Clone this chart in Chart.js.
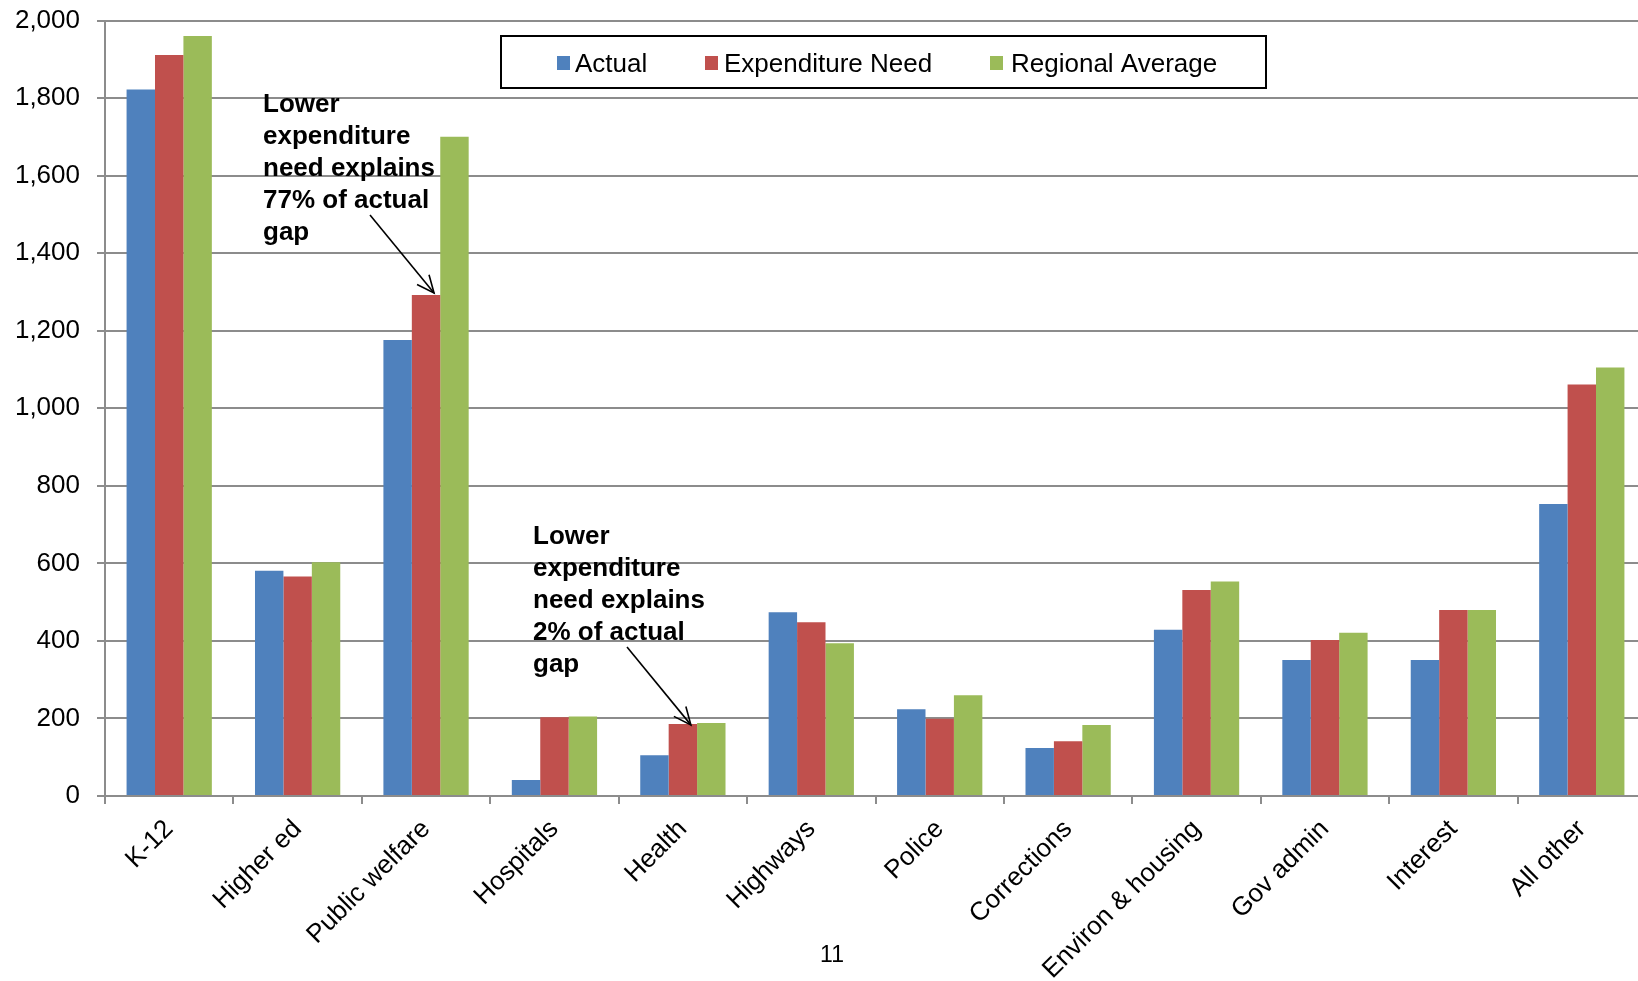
<!DOCTYPE html>
<html><head><meta charset="utf-8">
<script src="https://cdn.jsdelivr.net/npm/chart.js@4.4.0/dist/chart.umd.min.js"></script>
<style>
html,body{margin:0;padding:0;overflow:hidden;background:#fff;width:1638px;height:981px;}
#wrap{position:absolute;left:0;top:0;width:1660px;height:981px;}
canvas{display:block;}
</style></head><body>
<div id="wrap"><canvas id="c" width="1660" height="981"></canvas></div>
<script>
// ---- data ----
const categories = ['K-12','Higher ed','Public welfare','Hospitals','Health','Highways','Police','Corrections','Environ & housing','Gov admin','Interest','All other'];
const actual   = [1822, 581, 1176,  41, 105, 474, 224, 124, 429, 351, 351,  753];
const need     = [1911, 566, 1292, 203, 186, 448, 199, 141, 531, 402, 480, 1061];
const regional = [1960, 603, 1700, 205, 188, 394, 260, 183, 553, 421, 480, 1105];
const seriesNames = ['Actual', 'Expenditure Need', 'Regional Average'];
const yMin = 0, yMax = 2000, yStep = 200;
const note1 = ['Lower', 'expenditure', 'need explains', '77% of actual', 'gap'];
const note2 = ['Lower', 'expenditure', 'need explains', '2% of actual', 'gap'];
const pageNumber = '11';

const colors = ['#4F81BD', '#C0504D', '#9BBB59'];
const FONT = "'Liberation Sans', Arial, sans-serif";

const overlay = {
  id: 'overlay',
  afterDraw(chart) {
    const ctx = chart.ctx;
    ctx.save();
    // legend
    ctx.fillStyle = '#fff';
    ctx.fillRect(501, 36, 765, 52);
    ctx.strokeStyle = '#000';
    ctx.lineWidth = 2;
    ctx.strokeRect(501, 36, 765, 52);
    const sq = [557, 705, 990];
    const tx = [575, 724, 1011];
    ctx.font = '26px ' + FONT;
    ctx.textBaseline = 'middle';
    ctx.textAlign = 'left';
    seriesNames.forEach((n, i) => {
      ctx.fillStyle = chart.data.datasets[i].backgroundColor;
      ctx.fillRect(sq[i], 56, 13, 14);
      ctx.fillStyle = '#000';
      ctx.fillText(n, tx[i], 65);
    });
    // annotations
    ctx.font = 'bold 26px ' + FONT;
    ctx.textBaseline = 'alphabetic';
    ctx.fillStyle = '#000';
    const drawNote = (lines, x, y0) => {
      lines.forEach((l, k) => ctx.fillText(l, x, y0 + k * 32));
    };
    drawNote(note1, 263, 111.5);
    drawNote(note2, 533, 544);
    const meta = chart.getDatasetMeta(1);
    const arrow = (x0, y0, x1, y1) => {
      ctx.strokeStyle = '#000';
      ctx.lineWidth = 1.6;
      ctx.beginPath();
      ctx.moveTo(x0, y0); ctx.lineTo(x1, y1); ctx.stroke();
      const a = Math.atan2(y1 - y0, x1 - x0);
      const L = 19, s = 0.42;
      ctx.beginPath();
      ctx.moveTo(x1 - L * Math.cos(a - s), y1 - L * Math.sin(a - s));
      ctx.lineTo(x1, y1);
      ctx.lineTo(x1 - L * Math.cos(a + s), y1 - L * Math.sin(a + s));
      ctx.stroke();
    };
    const b1 = meta.data[2], b2 = meta.data[4];
    arrow(370, 215, b1.x + 8, b1.y - 2);
    arrow(627, 647, b2.x + 8, b2.y + 1);
    // page number
    ctx.font = '23px ' + FONT;
    ctx.textAlign = 'center';
    ctx.fillText(pageNumber, 832, 962);
    ctx.restore();
  }
};

new Chart(document.getElementById('c'), {
  type: 'bar',
  data: {
    labels: categories,
    datasets: [actual, need, regional].map((d, i) => ({
      label: seriesNames[i], data: d, backgroundColor: colors[i], borderWidth: 0,
      categoryPercentage: 0.664, barPercentage: 1.0
    }))
  },
  options: {
    responsive: false,
    animation: false,
    layout: { padding: { left: 0, right: 14, top: 20.5, bottom: 0 } },
    plugins: { legend: { display: false }, tooltip: { enabled: false } },
    scales: {
      x: {
        grid: { offset: true, drawOnChartArea: false, drawTicks: true, tickLength: 8, color: '#8c8c8c', lineWidth: 2 },
        border: { color: '#8c8c8c', width: 2 },
        ticks: { autoSkip: false, minRotation: 45, maxRotation: 45, color: '#000', font: { family: FONT, size: 26 }, padding: 10 },
        afterFit(s) { s.height = 185; s.paddingLeft = 0; s.paddingRight = 0; }
      },
      y: {
        min: yMin, max: yMax,
        ticks: { stepSize: yStep, color: '#000', font: { family: FONT, size: 26 }, padding: 17 },
        grid: { color: '#8c8c8c', lineWidth: 2, tickLength: 8 },
        border: { color: '#8c8c8c', width: 2 },
        afterFit(s) { s.width = 105; s.paddingTop = 0; s.paddingBottom = 0; }
      }
    }
  },
  plugins: [overlay]
});
</script>
</body></html>
